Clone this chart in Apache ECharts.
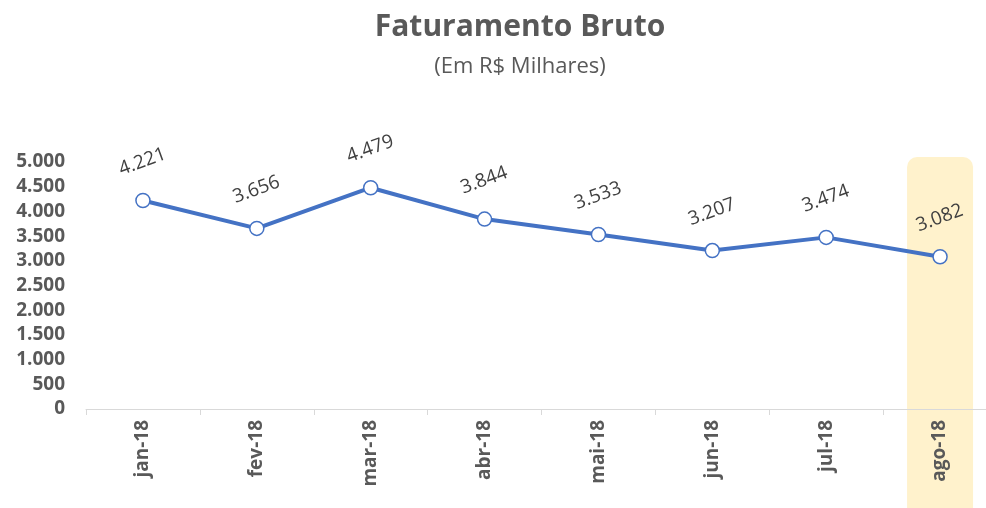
<!DOCTYPE html>
<html>
<head>
<meta charset="utf-8">
<script src="https://cdn.jsdelivr.net/npm/echarts@6/dist/echarts.min.js"></script>
<style>
  html, body { margin: 0; padding: 0; background: #fff; overflow: hidden; }
  #main { width: 1040px; height: 508px; }
</style>
</head>
<body>
<div id="main"></div>
<script>
var months = ['jan-18', 'fev-18', 'mar-18', 'abr-18', 'mai-18', 'jun-18', 'jul-18', 'ago-18'];
var faturamento = [4221, 3656, 4479, 3844, 3533, 3207, 3474, 3082];
var destaque = ['ago-18'];

// numero com ponto de milhar
function fmt(v) {
    return String(v).replace(/\B(?=(\d{3})+(?!\d))/g, '.');
}

var myChart = echarts.init(document.getElementById('main'));
var option = {
    backgroundColor: '#fff',
    textStyle: { fontFamily: 'Open Sans' },
    title: {
        text: 'Faturamento Bruto',
        subtext: '(Em R$ Milhares)',
        left: 'center',
        top: 7,
        itemGap: 14,
        textStyle: { fontSize: 30, fontWeight: 'bold', color: '#595959', fontFamily: 'Open Sans' },
        subtextStyle: { fontSize: 22, color: '#595959', fontFamily: 'Open Sans' }
    },
    grid: { left: 86, top: 162, width: 911, height: 247 },
    xAxis: {
        type: 'category',
        data: months,
        boundaryGap: true,
        axisLine: { lineStyle: { color: '#d9d9d9', width: 1 } },
        axisTick: { show: true, length: 6, lineStyle: { color: '#d9d9d9' } },
        axisLabel: {
            rotate: 90,
            margin: 11,
            fontSize: 19,
            fontWeight: 'bold',
            color: '#595959'
        },
        z: 5
    },
    yAxis: {
        type: 'value',
        min: 0,
        max: 5000,
        interval: 500,
        splitLine: { show: false },
        axisLine: { show: false },
        axisTick: { show: false },
        axisLabel: {
            margin: 21,
            fontSize: 19,
            fontWeight: 'bold',
            color: '#595959',
            formatter: function (v) { return fmt(v); }
        }
    },
    series: [
        {
            type: 'custom',
            z: -1,
            silent: true,
            clip: false,
            data: destaque.map(function (m) { return [months.indexOf(m), 5000]; }),
            renderItem: function (params, api) {
                var p = api.coord([api.value(0), api.value(1)]);
                var w = 66;
                return {
                    type: 'rect',
                    shape: { x: p[0] - w / 2, y: p[1] - 5, width: w, height: api.getHeight() - p[1] + 20, r: [10, 10, 0, 0] },
                    style: { fill: '#fff2cc' }
                };
            }
        },
        {
            type: 'line',
            data: faturamento,
            lineStyle: { color: '#4472c4', width: 4 },
            itemStyle: { color: '#fff', borderColor: '#4472c4', borderWidth: 1.5 },
            symbol: 'circle',
            symbolSize: 14,
            z: 3,
            label: {
                show: true,
                position: 'top',
                distance: 21,
                offset: [3, 0],
                rotate: 20,
                fontSize: 19,
                color: '#404040',
                formatter: function (p) { return fmt(p.value); }
            }
        }
    ]
};
myChart.setOption(option);
</script>
</body>
</html>
